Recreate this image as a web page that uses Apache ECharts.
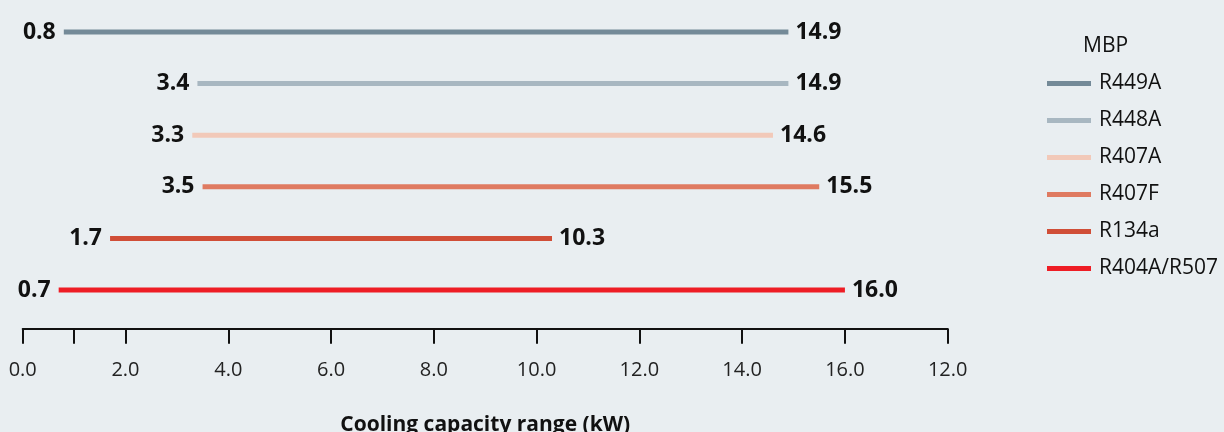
<!DOCTYPE html>
<html>
<head>
<meta charset="utf-8">
<script src="https://cdn.jsdelivr.net/npm/echarts@6/dist/echarts.min.js"></script>
<style>
html,body{margin:0;padding:0;background:#e9eef1;}
#chart{width:1224px;height:432px;}
</style>
</head>
<body>
<div id="chart"></div>
<script>
// Data
var refrigerants = ['R449A', 'R448A', 'R407A', 'R407F', 'R134a', 'R404A/R507'];
var rangeMin = [0.8, 3.4, 3.3, 3.5, 1.7, 0.7];
var rangeMax = [14.9, 14.9, 14.6, 15.5, 10.3, 16.0];
var colors = ['#748a98', '#a8b7c1', '#f2c9b9', '#df7a61', '#d04e37', '#ee1d25'];
var tickValues = [0, 1, 2, 4, 6, 8, 10, 12, 14, 16, 18];
var labelValues = [0, 2, 4, 6, 8, 10, 12, 14, 16, 18];
var tickLabels = ['0.0', '2.0', '4.0', '6.0', '8.0', '10.0', '12.0', '14.0', '16.0', '12.0'];
var legendTitle = 'MBP';
var axisTitle = 'Cooling capacity range (kW)';

var chart = echarts.init(document.getElementById('chart'));
var yCats = refrigerants.slice().reverse();
var labelFont = { fontFamily: 'Open Sans', fontWeight: 'bold', fontSize: 23, color: '#111' };

var series = refrigerants.map(function (name, i) {
  return {
    name: name,
    type: 'line',
    symbol: 'circle',
    symbolSize: 0.1,
    itemStyle: { color: colors[i] },
    lineStyle: { width: 5, color: colors[i], cap: 'butt' },
    data: [
      { value: [rangeMin[i], name], label: Object.assign({ show: true, position: 'left', distance: 8 }, labelFont) },
      { value: [rangeMax[i], name], label: Object.assign({ show: true, position: 'right', distance: 7 }, labelFont) }
    ],
    label: {
      formatter: function (p) { return p.value[0].toFixed(1); }
    },
    emphasis: { disabled: true },
    z: 2
  };
});

chart.setOption({
  backgroundColor: '#e9eef1',
  animation: false,
  title: {
    text: legendTitle,
    left: 1078,
    top: 31,
    textStyle: { fontFamily: 'Open Sans', fontWeight: 'normal', fontSize: 21, color: '#111' }
  },
  legend: {
    orient: 'vertical',
    left: 1042,
    top: 68,
    icon: 'rect',
    itemWidth: 44,
    itemHeight: 5,
    itemGap: 16,
    data: refrigerants,
    textStyle: { fontFamily: 'Open Sans', fontSize: 21, color: '#111', lineHeight: 21, padding: [0, 0, 0, 3] }
  },
  grid: { left: 22.7, right: 276.3, top: 6.2, bottom: 116.2, containLabel: false, outerBoundsMode: 'none' },
  xAxis: {
    type: 'value',
    min: 0,
    max: 18,
    interval: 1,
    offset: 13,
    axisLine: { show: true, lineStyle: { color: '#111', width: 2 } },
    axisTick: { show: true, length: 15, lineStyle: { color: '#111', width: 2 }, customValues: tickValues },
    axisLabel: {
      show: true,
      customValues: labelValues,
      margin: 31,
      fontFamily: 'Open Sans',
      fontSize: 20,
      color: '#222',
      formatter: function (v) {
        var idx = labelValues.indexOf(v);
        return idx >= 0 ? tickLabels[idx] : '';
      }
    },
    splitLine: { show: false },
    name: axisTitle,
    nameLocation: 'middle',
    nameGap: 86,
    nameTextStyle: { fontFamily: 'Open Sans', fontWeight: 'bold', fontSize: 21, color: '#111' }
  },
  yAxis: {
    type: 'category',
    data: yCats,
    boundaryGap: true,
    axisLine: { show: false },
    axisTick: { show: false },
    axisLabel: { show: false },
    splitLine: { show: false }
  },
  series: series
});
</script>
</body>
</html>
